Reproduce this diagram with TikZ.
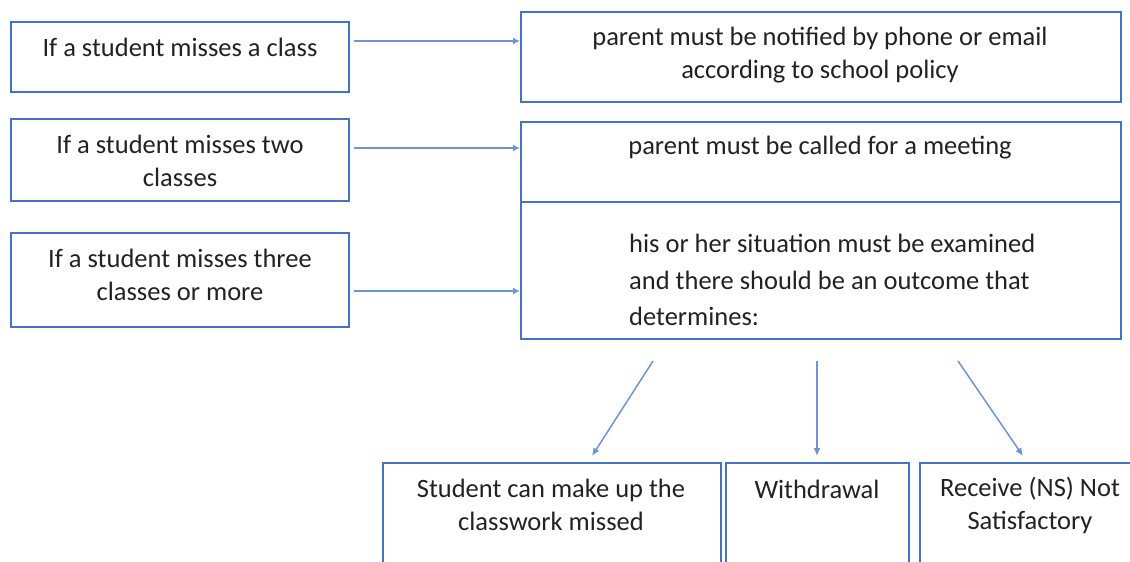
\documentclass[tikz,border=0pt]{standalone}
\usepackage{fontspec}
\setmainfont{Carlito}
\usetikzlibrary{arrows.meta}
\definecolor{boxblue}{HTML}{4472C4}
\definecolor{arrblue}{HTML}{6F93D6}
\definecolor{txt}{HTML}{222222}
\tikzset{
  box/.style={draw=boxblue, line width=2bp, anchor=north west, inner sep=0pt, fill=white},
  lbl/.style={text=txt, font=\fontsize{26.5bp}{33bp}\selectfont, align=center, inner sep=0pt},
  conn/.style={draw=arrblue, line width=2.5bp, -{Latex[length=7bp,width=7bp]}},
  thin/.style={draw=arrblue, line width=1.5bp, -{Latex[length=8bp,width=7bp]}}
}
\begin{document}
\begin{tikzpicture}[x=1bp,y=-1bp]
\useasboundingbox (0,0) rectangle (1130,562);
\clip (0,0) rectangle (1130,562);
% left boxes
\node[box, minimum width=338bp, minimum height=70bp] (l1) at (10,21) {};
\node[box, minimum width=338bp, minimum height=82bp] (l2) at (10,118) {};
\node[box, minimum width=338bp, minimum height=94bp] (l3) at (10,232) {};
\node[lbl] (t1) at (180,47) {If a student misses a class};
\node[lbl] (t2) at (180,161) {If a student misses two\\classes};
\node[lbl] (t3) at (180,275) {If a student misses three\\classes or more};
% right boxes
\node[box, minimum width=600bp, minimum height=90bp] (r1) at (520,11) {};
\node[box, minimum width=600bp, minimum height=80bp] (r2) at (520,121) {};
\node[box, minimum width=600bp, minimum height=137bp] (r3) at (520,201) {};
\node[lbl] (tr1) at (820,55) {parent must be notified by phone or email\\according to school policy};
\node[lbl] (tr2) at (820,148) {parent must be called for a meeting};
\node[lbl, align=left, anchor=west, font=\fontsize{26.5bp}{36.5bp}\selectfont] (tr3) at (629,280) {his or her situation must be examined\\and there should be an outcome that\\determines:};
% bottom boxes
\node[box, minimum width=338bp, minimum height=140bp] (b1) at (382,462) {};
\node[box, minimum width=183bp, minimum height=140bp] (b2) at (725,462) {};
\node[box, minimum width=230bp, minimum height=140bp] (b3) at (919,462) {};
\node[lbl] (tb1) at (551,505) {Student can make up the\\classwork missed};
\node[lbl] (tb2) at (817,489) {Withdrawal};
\node[lbl] (tb3) at (1030,505) {Receive (NS) Not\\Satisfactory};
% connectors
\draw[conn] (l1.east |- 0,41) ++(4,0) -- (r1.west |- 0,41);
\draw[conn] (l2.east |- 0,148) ++(4,0) -- (r2.west |- 0,148);
\draw[conn] (l3.east |- 0,291) ++(4,0) -- (r3.west |- 0,291);
\coordinate (s1) at (653,361);
\coordinate (s2) at (817,361);
\coordinate (s3) at (958,361);
\coordinate (e1) at (592,456);
\coordinate (e2) at (817,456);
\coordinate (e3) at (1023,456);
\draw[thin] (s1) -- (e1);
\draw[thin] (s2) -- (e2);
\draw[thin] (s3) -- (e3);
\end{tikzpicture}
\end{document}
